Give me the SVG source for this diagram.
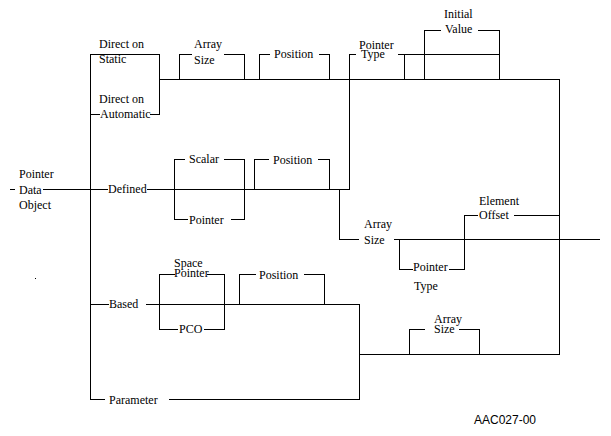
<svg xmlns="http://www.w3.org/2000/svg" width="611" height="436" viewBox="0 0 611 436">
<style>
.c{stroke:#000;stroke-width:1;fill:none;shape-rendering:crispEdges}
text{font-size:12px;fill:#000}
</style>
<rect width="611" height="436" fill="#fff"/>
<g id="connectors" class="c">
<path d="M10 189.5H15M43 189.5H108M147 189.5H349.5"/>
<path d="M90.5 54V399.5"/>
<path d="M90 54.5H159.5V114.5M90 114.5H100M150 114.5H159.5"/>
<path d="M159 79.5H559.5V354"/>
<path d="M179.5 79V54.5H192M224 54.5H244.5V79"/>
<path d="M259.5 79V54.5H270M319 54.5H329.5V79"/>
<path d="M349.5 189V54.5H356M398 54.5H404.5V79M404 54.5H499"/>
<path d="M424.5 79V30.5H441M478 30.5H499.5V79"/>
<path d="M174.5 189V159.5H185M224 159.5H244.5V189M174.5 189V219.5H188M231 219.5H244.5V189"/>
<path d="M254.5 189V159.5H269M318 159.5H329.5V189"/>
<path d="M339.5 189V239.5H359M394 239.5H600"/>
<path d="M399.5 239V269.5H413M449 269.5H464.5V215.5H478M514 215.5H559"/>
<path d="M90 304.5H109M146 304.5H359.5V399"/>
<path d="M159.5 304V274.5H175M207 274.5H224.5V304M159.5 304V329.5H178M204 329.5H224.5V304"/>
<path d="M239.5 304V274.5H256M304 274.5H324.5V304"/>
<path d="M359 354.5H559.5"/>
<path d="M409.5 354V329.5H425M459 329.5H479.5V354"/>
<path d="M90 399.5H105M169 399.5H359.5"/>
</g>
<rect x="35" y="278" width="1" height="1" fill="#000"/>
<g font-family="'Liberation Serif', 'DejaVu Serif', serif">
<g id="pointer-data-object"><text x="19" y="178">Pointer</text><text x="19" y="194">Data</text><text x="19" y="209">Object</text></g>
<g id="direct-static"><text x="99" y="48">Direct on</text><text x="99" y="63">Static</text></g>
<g id="direct-automatic"><text x="99" y="103">Direct on</text><text x="100" y="118">Automatic</text></g>
<g id="array-size-1"><text x="194" y="48">Array</text><text x="194" y="64">Size</text></g>
<g id="position-1"><text x="274" y="58">Position</text></g>
<g id="pointer-type-1"><text x="359" y="49">Pointer</text><text x="361" y="58">Type</text></g>
<g id="initial-value"><text x="444" y="18">Initial</text><text x="445" y="33">Value</text></g>
<g id="defined"><text x="108" y="193">Defined</text></g>
<g id="scalar"><text x="189" y="163">Scalar</text></g>
<g id="pointer-1"><text x="189" y="224">Pointer</text></g>
<g id="position-2"><text x="273" y="164">Position</text></g>
<g id="array-size-2"><text x="364" y="228">Array</text><text x="364" y="244">Size</text></g>
<g id="element-offset"><text x="479" y="205">Element</text><text x="479" y="219">Offset</text></g>
<g id="pointer-type-2"><text x="413" y="271">Pointer</text><text x="414" y="290">Type</text></g>
<g id="based"><text x="109" y="308">Based</text></g>
<g id="space-pointer"><text x="174" y="267">Space</text><text x="174" y="277">Pointer</text></g>
<g id="pco"><text x="179" y="333">PCO</text></g>
<g id="position-3"><text x="259" y="279">Position</text></g>
<g id="array-size-3"><text x="434" y="323">Array</text><text x="434" y="333">Size</text></g>
<g id="parameter"><text x="109" y="404">Parameter</text></g>
</g>
<g id="figure-id"><text x="474" y="424" font-family="'Liberation Sans', Arial, sans-serif">AAC027-00</text></g>
</svg>
